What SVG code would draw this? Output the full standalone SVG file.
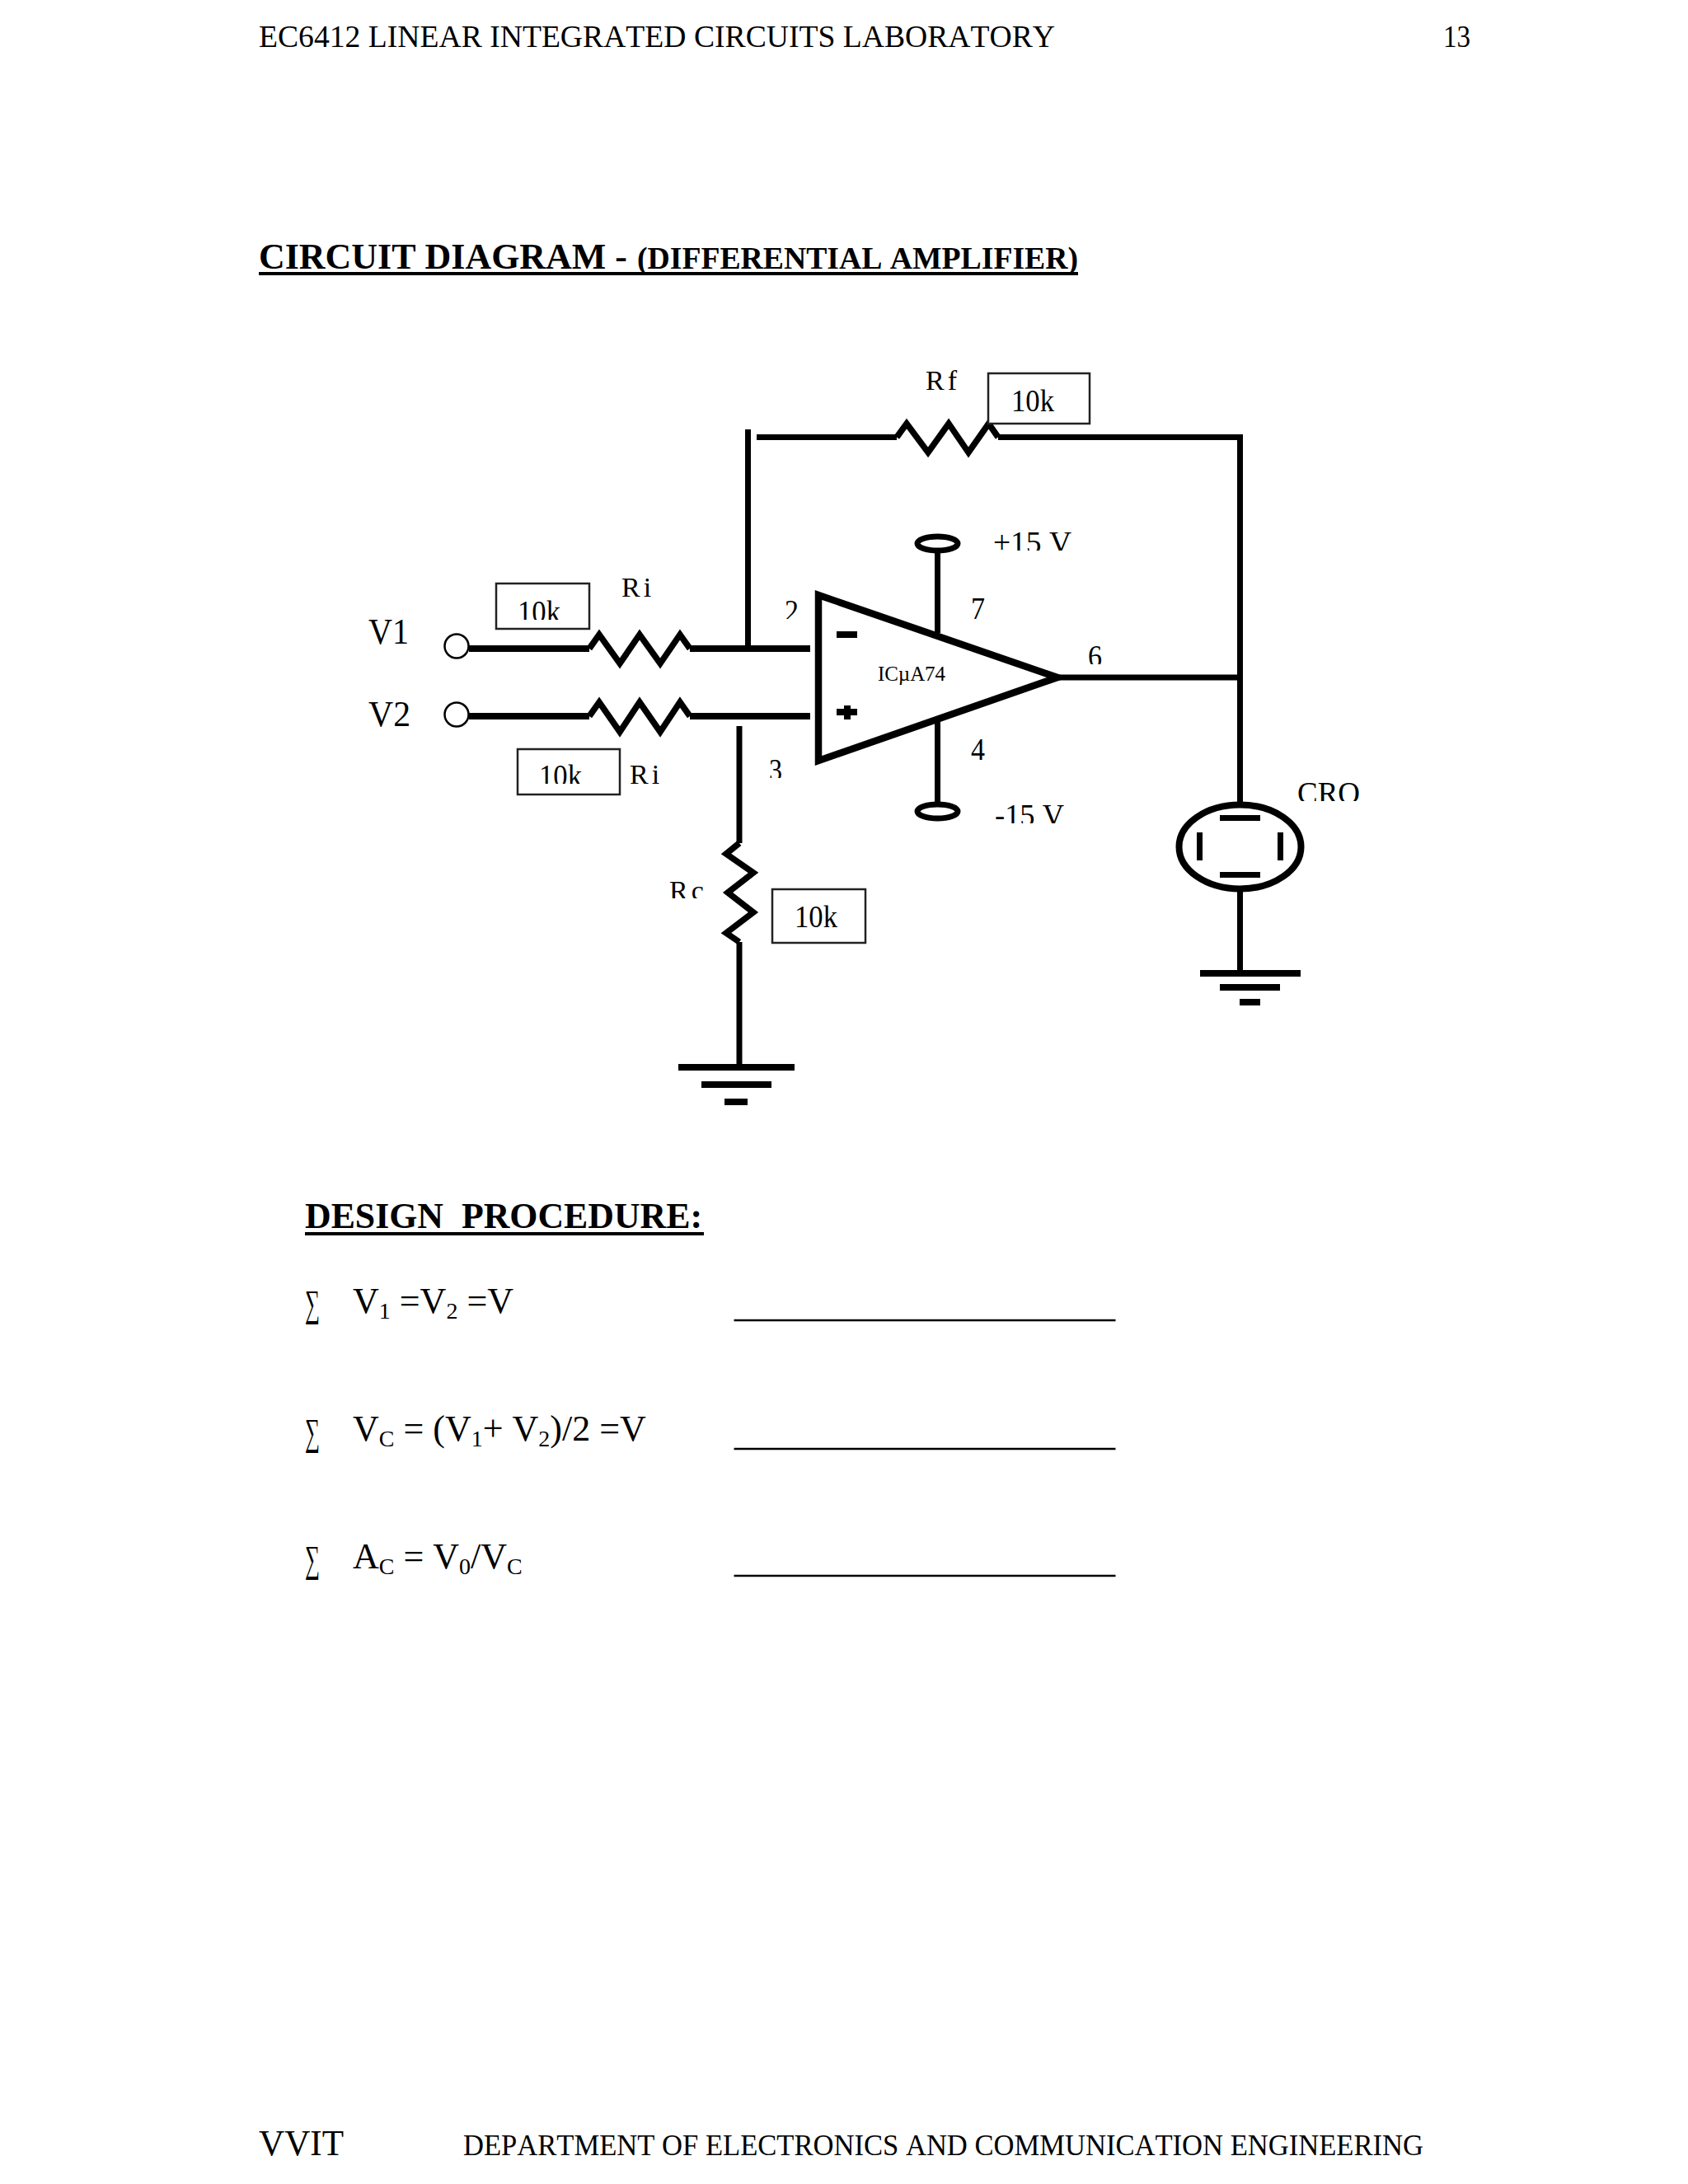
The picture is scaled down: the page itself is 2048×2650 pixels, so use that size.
<svg xmlns="http://www.w3.org/2000/svg" width="2048" height="2650" viewBox="0 0 2048 2650">
<style>
text{font-family:"Liberation Serif","Times New Roman",serif;fill:#000;font-kerning:none;white-space:pre}
.w{fill:none;stroke:#000;stroke-width:7}
.t{fill:none;stroke:#000;stroke-width:8}
.z{fill:none;stroke:#000;stroke-width:7.5;stroke-linejoin:miter}
.box{fill:#fff;stroke:#222;stroke-width:2.5}
.lab{font-size:38px}
.sm{font-size:34px;letter-spacing:4px}
.eq{font-size:44px}
.sub{font-size:28px}
.sig{font-size:46px}
.blank{stroke:#000;stroke-width:2.5}
.b{font-weight:bold}
</style>
<defs>
<clipPath id="c10a"><rect x="620" y="710" width="70" height="42"/></clipPath>
<clipPath id="c10b"><rect x="645" y="912" width="70" height="39"/></clipPath>
<clipPath id="c2"><rect x="945" y="720" width="30" height="31"/></clipPath>
<clipPath id="c3"><rect x="925" y="915" width="30" height="29"/></clipPath>
<clipPath id="c6"><rect x="1312" y="775" width="30" height="31"/></clipPath>
<clipPath id="cP"><rect x="1195" y="635" width="115" height="33"/></clipPath>
<clipPath id="cM"><rect x="1200" y="965" width="100" height="34"/></clipPath>
<clipPath id="cC"><rect x="1565" y="940" width="95" height="32"/></clipPath>
<clipPath id="cR"><rect x="805" y="1060" width="50" height="30"/></clipPath>
</defs>

<g id="header">
<text x="314" y="56.5" font-size="38.5" textLength="966" lengthAdjust="spacingAndGlyphs">EC6412 LINEAR INTEGRATED CIRCUITS LABORATORY</text>
<text x="1751" y="56.5" font-size="38.5" textLength="33" lengthAdjust="spacingAndGlyphs">13</text>
</g>
<g id="title">
<text x="314" y="326" font-size="44" class="b" textLength="447" lengthAdjust="spacingAndGlyphs">CIRCUIT DIAGRAM -</text>
<text x="773" y="326" font-size="38" class="b" textLength="535" lengthAdjust="spacingAndGlyphs">(DIFFERENTIAL AMPLIFIER)</text>
<rect x="314" y="330" width="994" height="4"/>
</g>

<g id="connectors">
<path class="w" d="M907.5 521V787"/>
<path class="w" d="M918 530.5H1088"/>
<path class="w" d="M1211 530.5H1504.5V975"/>
<path class="t" d="M569 787H715"/>
<path class="t" d="M837 787H983"/>
<path class="t" d="M569 869H715"/>
<path class="t" d="M837 869H983"/>
<path class="w" d="M897 881V1023"/>
<path class="w" d="M897 1143V1291"/>
<path class="w" d="M1137.5 671V768"/>
<path class="w" d="M1137.5 875V975"/>
<path class="w" d="M1282 822H1504.5"/>
<path class="w" d="M1504.5 1082V1177"/>
</g>

<g id="source-v1">
<circle cx="554" cy="784" r="14.5" fill="#fff" stroke="#000" stroke-width="2.5"/>
<text x="447" y="781" font-size="44" textLength="49" lengthAdjust="spacingAndGlyphs">V1</text>
</g>
<g id="source-v2">
<circle cx="554" cy="867" r="14.5" fill="#fff" stroke="#000" stroke-width="2.5"/>
<text x="447" y="881" font-size="44" textLength="51" lengthAdjust="spacingAndGlyphs">V2</text>
</g>

<g id="ri-1">
<path class="z" d="M715 787L727 770L752 805L776 770L801 805L825 770L837 787"/>
<rect class="box" x="602" y="708" width="113" height="55"/>
<text class="lab" x="628" y="755" clip-path="url(#c10a)" textLength="52" lengthAdjust="spacingAndGlyphs">10k</text>
<text class="sm" x="754" y="724">Ri</text>
</g>
<g id="ri-2">
<path class="z" d="M715 869L727 852L752 888L776 852L801 888L825 852L837 869"/>
<rect class="box" x="628" y="909" width="124" height="55"/>
<text class="lab" x="654" y="954" clip-path="url(#c10b)" textLength="52" lengthAdjust="spacingAndGlyphs">10k</text>
<text class="sm" x="764" y="951">Ri</text>
</g>
<g id="rf">
<path class="z" d="M1088 530.5L1100 514L1126 549L1151 514L1175 549L1199.5 514L1211 530.5"/>
<rect class="box" x="1199" y="453" width="123" height="61"/>
<text class="lab" x="1227" y="499" textLength="52" lengthAdjust="spacingAndGlyphs">10k</text>
<text class="sm" x="1123" y="473">Rf</text>
</g>
<g id="rc">
<path class="z" d="M897 1023L881 1036L914 1059L883 1083L914 1107L881 1132L897 1143"/>
<rect class="box" x="937" y="1079" width="113" height="65"/>
<text class="lab" x="964" y="1125" textLength="52" lengthAdjust="spacingAndGlyphs">10k</text>
<text class="sm" x="812" y="1092" clip-path="url(#cR)">Rc</text>
</g>

<g id="opamp">
<path fill="none" stroke="#000" stroke-width="8.5" stroke-linejoin="miter" d="M993 722L1283 822L993 923Z"/>
<rect x="1015" y="766" width="25" height="8"/>
<path d="M1015 860H1024V856H1032V860H1040V868H1032V873H1024V868H1015Z"/>
<text x="1065" y="826" font-size="25" textLength="82" lengthAdjust="spacing">ICµA74</text>
<text class="lab" x="952" y="754" clip-path="url(#c2)" textLength="17" lengthAdjust="spacingAndGlyphs">2</text>
<text class="lab" x="933" y="947" clip-path="url(#c3)" textLength="16" lengthAdjust="spacingAndGlyphs">3</text>
<text class="lab" x="1178" y="751" textLength="17" lengthAdjust="spacingAndGlyphs">7</text>
<text class="lab" x="1320" y="809" clip-path="url(#c6)" textLength="17" lengthAdjust="spacingAndGlyphs">6</text>
<text class="lab" x="1178" y="922" textLength="17" lengthAdjust="spacingAndGlyphs">4</text>
</g>
<g id="supply-plus">
<ellipse cx="1137.5" cy="659.5" rx="24.5" ry="8.5" fill="none" stroke="#000" stroke-width="7"/>
<text class="lab" x="1205" y="671" clip-path="url(#cP)" textLength="95" lengthAdjust="spacingAndGlyphs">+15 V</text>
</g>
<g id="supply-minus">
<ellipse cx="1137.5" cy="984.5" rx="24.5" ry="8.5" fill="none" stroke="#000" stroke-width="7"/>
<text class="lab" x="1207" y="1002" clip-path="url(#cM)" textLength="84" lengthAdjust="spacingAndGlyphs">-15 V</text>
</g>
<g id="cro">
<ellipse cx="1504.5" cy="1027.5" rx="74" ry="51" fill="none" stroke="#000" stroke-width="8"/>
<rect x="1480" y="989" width="49" height="7"/>
<rect x="1480" y="1058" width="49" height="7"/>
<rect x="1452" y="1010" width="7" height="34"/>
<rect x="1550" y="1010" width="7" height="34"/>
<text class="lab" x="1574" y="975" clip-path="url(#cC)" textLength="76" lengthAdjust="spacingAndGlyphs">CRO</text>
</g>
<g id="ground-rc">
<rect x="823" y="1291" width="141" height="8"/>
<rect x="851" y="1312" width="85" height="8"/>
<rect x="879" y="1333" width="28" height="8"/>
</g>
<g id="ground-cro">
<rect x="1456" y="1177" width="122" height="8"/>
<rect x="1480" y="1194" width="73" height="8"/>
<rect x="1504" y="1212" width="25" height="8"/>
</g>

<g id="design">
<text x="370" y="1490" font-size="44" class="b" textLength="482" lengthAdjust="spacingAndGlyphs">DESIGN  PROCEDURE:</text>
<rect x="370" y="1495" width="484" height="4"/>
<text class="sig" x="370" y="1597" textLength="18" lengthAdjust="spacingAndGlyphs">∑</text>
<text class="sig" x="370" y="1753" textLength="18" lengthAdjust="spacingAndGlyphs">∑</text>
<text class="sig" x="370" y="1907" textLength="18" lengthAdjust="spacingAndGlyphs">∑</text>
<text class="eq" x="428" y="1593">V<tspan class="sub" dy="7">1</tspan><tspan dy="-7"> =V</tspan><tspan class="sub" dy="7">2</tspan><tspan dy="-7"> =V</tspan></text>
<text class="eq" x="428" y="1748">V<tspan class="sub" dy="7">C</tspan><tspan dy="-7"> = (V</tspan><tspan class="sub" dy="7">1</tspan><tspan dy="-7">+ V</tspan><tspan class="sub" dy="7">2</tspan><tspan dy="-7">)/2 =V</tspan></text>
<text class="eq" x="428" y="1903">A<tspan class="sub" dy="7">C</tspan><tspan dy="-7"> = V</tspan><tspan class="sub" dy="7">0</tspan><tspan dy="-7">/V</tspan><tspan class="sub" dy="7">C</tspan></text>
<path class="blank" d="M890.5 1602H1353.5M890.5 1758H1353.5M890.5 1912H1353.5"/>
</g>

<g id="footer">
<text x="314" y="2615" font-size="45" textLength="103" lengthAdjust="spacingAndGlyphs">VVIT</text>
<text x="562" y="2615" font-size="36" textLength="1165" lengthAdjust="spacingAndGlyphs">DEPARTMENT OF ELECTRONICS AND COMMUNICATION ENGINEERING</text>
</g>
</svg>
